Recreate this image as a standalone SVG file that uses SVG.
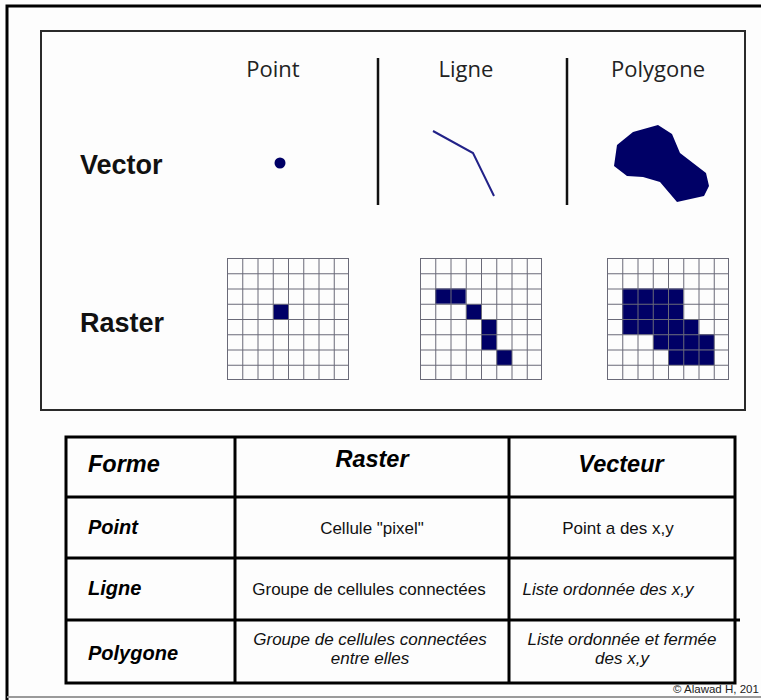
<svg xmlns="http://www.w3.org/2000/svg" xmlns:xlink="http://www.w3.org/1999/xlink" width="761" height="700" viewBox="0 0 761 700">
<style>
.lbl{font-family:"Open Sans","Noto Sans","Liberation Sans",sans-serif;font-size:22px;fill:#222;text-anchor:middle}
.big{font-family:"Liberation Sans",Arial,sans-serif;font-size:27px;font-weight:bold;fill:#111}
.sep{stroke:#111;stroke-width:2.5}
.navy{fill:#000066}
.gl{stroke:#6a6a78;stroke-width:1;fill:none}
.tb{stroke:#000;stroke-width:3;fill:none}
.th{font-family:"Liberation Sans",Arial,sans-serif;font-size:23.5px;font-weight:bold;font-style:italic;fill:#000}
.tr{font-family:"Liberation Sans",Arial,sans-serif;font-size:20px;font-weight:bold;font-style:italic;fill:#000}
.tc{font-family:"Liberation Sans",Arial,sans-serif;font-size:17px;fill:#111;text-anchor:middle}
.ti{font-style:italic}
</style>
<defs>
<path id="grid" class="gl" d="M0.5,0V122M15.75,0V122M31,0V122M46.25,0V122M61.5,0V122M76.75,0V122M92,0V122M107.25,0V122M121.5,0V122M0,0.5H122M0,15.75H122M0,31H122M0,46.25H122M0,61.5H122M0,76.75H122M0,92H122M0,107.25H122M0,121.5H122"/>
</defs>
<rect width="761" height="700" fill="#fdfdfd"/>
<g id="frame">
<path d="M7,700V6H761" fill="none" stroke="#000" stroke-width="3"/>
<line x1="7" y1="697" x2="761" y2="697" stroke="#9a9a9a" stroke-width="2"/>
<rect x="41" y="31" width="704" height="379" fill="none" stroke="#2a2a2a" stroke-width="2"/>
</g>
<g id="headers">
<text class="lbl" x="273" y="77">Point</text>
<text class="lbl" x="466" y="77">Ligne</text>
<text class="lbl" x="658" y="77">Polygone</text>
<line class="sep" x1="378" y1="58" x2="378" y2="205"/>
<line class="sep" x1="567" y1="58" x2="567" y2="205"/>
</g>
<g id="vector-row">
<text class="big" x="80" y="174">Vector</text>
<circle class="navy" cx="280" cy="163" r="5.5"/>
<polyline points="433,131 473,153 494,196" fill="none" stroke="#222288" stroke-width="2"/>
<polygon class="navy" points="614,166 617,145 633,132 658,125 672,134 680,153 706,173 709,186 704,196 677,202 660,182 643,177 627,176"/>
</g>
<g id="raster-row">
<text class="big" x="80" y="332">Raster</text>
<g id="raster-point" transform="translate(227,258)">
<rect class="navy" x="46.25" y="46.25" width="15.25" height="15.25"/>
<use xlink:href="#grid"/>
</g>
<g id="raster-line" transform="translate(420,258)">
<rect class="navy" x="15.25" y="30.5" width="30.5" height="15.25"/>
<rect class="navy" x="46.25" y="46.25" width="15.25" height="15.25"/>
<rect class="navy" x="61.5" y="61.5" width="15.25" height="30.5"/>
<rect class="navy" x="76.75" y="92" width="15.25" height="15.25"/>
<use xlink:href="#grid"/>
</g>
<g id="raster-polygon" transform="translate(607,258)">
<rect class="navy" x="15.25" y="30.5" width="61" height="30.5"/>
<rect class="navy" x="15.25" y="61" width="76.25" height="15.5"/>
<rect class="navy" x="46.25" y="76.25" width="61" height="15.5"/>
<rect class="navy" x="61.5" y="91.5" width="45.75" height="15.5"/>
<use xlink:href="#grid"/>
</g>
</g>
<g id="table">
<rect class="tb" x="66" y="437" width="669" height="246"/>
<line class="tb" x1="235" y1="437" x2="235" y2="683"/>
<line class="tb" x1="509" y1="437" x2="509" y2="683"/>
<line class="tb" x1="66" y1="497" x2="735" y2="497"/>
<line class="tb" x1="66" y1="558" x2="735" y2="558"/>
<line class="tb" x1="66" y1="620" x2="740" y2="620"/>
</g>
<g id="table-text">
<text class="th" x="88" y="472">Forme</text>
<text class="th" x="372" y="467" text-anchor="middle">Raster</text>
<text class="th" x="621" y="472" text-anchor="middle">Vecteur</text>
<text class="tr" x="88" y="534">Point</text>
<text class="tc" x="372" y="534">Cellule "pixel"</text>
<text class="tc" x="618" y="534">Point a des x,y</text>
<text class="tr" x="88" y="595">Ligne</text>
<text class="tc" x="369" y="595">Groupe de cellules connectées</text>
<text class="tc ti" x="608" y="595">Liste ordonnée des x,y</text>
<text class="tr" x="88" y="660">Polygone</text>
<text class="tc ti" x="370" y="645">Groupe de cellules connectées</text>
<text class="tc ti" x="370" y="664">entre elles</text>
<text class="tc ti" x="622" y="645">Liste ordonnée et fermée</text>
<text class="tc ti" x="622" y="664">des x,y</text>
</g>
<text x="673" y="693" font-family="Liberation Sans,Arial,sans-serif" font-size="11.5" fill="#222">© Alawad H, 201</text>
</svg>
